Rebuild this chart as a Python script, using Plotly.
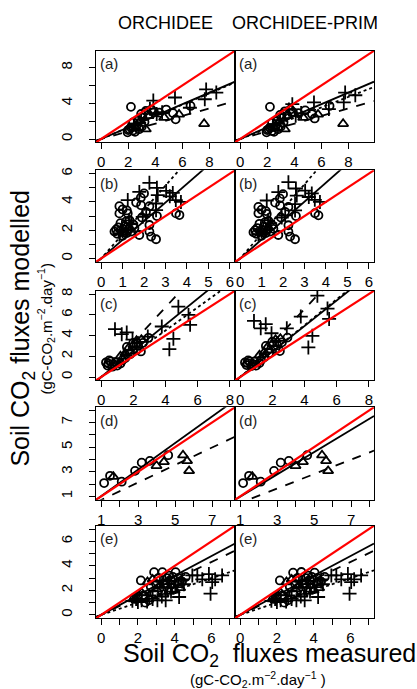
import plotly.graph_objects as go

W, H = 417, 689
FONT = "Liberation Sans, Arial, Helvetica, sans-serif"

PANEL_LABELS = ["(a)", "(b)", "(c)", "(d)", "(e)"]
MODELS = ["ORCHIDEE", "ORCHIDEE-PRIM"]

# data limits (R applies a 4% expansion)
LIMS = [(0, 9.5), (0, 6), (0, 8), (1, 7.95), (0, 7)]
TICKS = [[0, 2, 4, 6, 8], [0, 1, 2, 3, 4, 5, 6], [0, 2, 4, 6, 8],
         [1, 2, 3, 4, 5, 6, 7, 8], [0, 1, 2, 3, 4, 5, 6, 7]]
XLABELED = [[0, 2, 4, 6, 8], [0, 1, 2, 3, 4, 5, 6], [0, 2, 4, 6, 8], [1, 3, 5, 7], [0, 2, 4, 6]]
YLABELED = [[0, 4, 8], [0, 2, 4, 6], [0, 2, 4, 6, 8], [1, 3, 5, 7], [0, 2, 4, 6]]

# ---------------- panel (a)
A_CIRC_X = [2.2, 4.8, 6.6, 5.5, 5.3, 3.3, 3.7, 2.95, 2.7, 2.35, 2.1, 2.35, 2.8, 2.6, 1.95, 3.05, 4.3, 3.9,
            2.2, 3.0, 3.5, 2.5, 2.0, 3.2]
A_CIRC_ORC = [3.6, 3.3, 3.7, 2.2, 2.9, 3.15, 3.3, 2.8, 2.05, 1.85, 1.1, 0.95, 1.1, 1.5, 0.75, 2.4, 2.95, 3.0,
              1.3, 1.4, 2.7, 0.8, 1.0, 1.9]
A_CIRC_PRIM = [3.6, 3.2, 3.7, 2.3, 2.8, 3.1, 3.3, 2.7, 2.0, 1.8, 1.1, 0.9, 1.1, 1.45, 0.75, 2.35, 2.9, 3.0,
               1.25, 1.4, 2.65, 0.8, 1.0, 1.85]
A_PLUS_X = [3.85, 5.45, 7.75, 8.5, 7.65, 6.55, 4.1, 2.95, 2.45, 3.6, 4.5]
A_PLUS_ORC = [4.3, 4.65, 5.55, 5.2, 4.45, 3.5, 2.8, 2.2, 1.65, 3.4, 3.0]
A_PLUS_PRIM = [3.9, 4.1, 5.2, 4.9, 4.1, 3.35, 2.6, 2.1, 1.6, 3.3, 2.9]
A_TRI_X = [7.6, 4.65, 5.75, 3.3, 2.6, 2.9, 3.5]
A_TRI_ORC = [1.7, 2.4, 2.75, 1.1, 1.2, 2.0, 2.6]
A_TRI_PRIM = [1.7, 2.4, 2.75, 1.1, 1.2, 1.95, 2.6]

# ---------------- panel (b)
B_CIRC_X = [0.85, 1.0, 0.85, 1.24, 1.63, 1.86, 2.09, 2.25, 3.49, 3.65, 1.78, 2.25, 2.56, 2.33, 2.25,
            0.62, 0.93, 1.32, 1.55, 0.75, 1.0, 1.1, 0.9, 1.2, 1.4, 0.7, 1.05, 1.3, 1.5, 0.8, 1.15, 1.2,
            1.9, 2.0, 1.85, 2.6]
B_CIRC_ORC = [3.7, 3.47, 3.19, 3.19, 3.96, 3.77, 3.3, 3.7, 3.19, 3.07, 1.66, 1.9, 1.36, 1.55, 2.37,
              1.9, 2.0, 2.7, 2.15, 1.75, 1.6, 2.3, 2.5, 1.8, 1.9, 2.05, 1.85, 2.1, 2.4, 2.2, 2.6, 3.4,
              2.9, 4.6, 4.3, 3.0]
B_CIRC_PRIM = [3.65, 3.45, 3.2, 3.15, 3.95, 3.75, 3.3, 3.65, 3.2, 3.05, 1.66, 1.9, 1.36, 1.55, 2.35,
               1.85, 1.95, 2.65, 2.1, 1.75, 1.6, 2.25, 2.45, 1.8, 1.9, 2.0, 1.85, 2.1, 2.35, 2.15, 2.55, 3.35,
               2.9, 4.55, 4.25, 3.0]
B_PLUS_X = [2.25, 2.6, 3.03, 3.34, 3.48, 3.72, 2.64, 2.56, 1.24, 1.94, 2.56, 1.78, 1.4, 1.0, 1.2, 0.85, 2.1, 1.3, 3.2]
B_PLUS_ORC = [5.35, 5.0, 4.78, 4.64, 4.13, 4.0, 4.48, 3.89, 4.13, 2.95, 3.42, 4.71, 2.49, 1.9, 2.0, 1.7, 3.1, 2.7, 4.4]
B_PLUS_PRIM = [5.4, 4.95, 4.8, 4.6, 4.15, 4.0, 4.45, 3.85, 4.1, 2.9, 3.4, 4.7, 2.5, 1.9, 2.0, 1.7, 3.05, 2.7, 4.35]

# ---------------- panel (c)
C_CIRC_X = [0.3, 0.45, 0.6, 0.8, 1.0, 1.2, 0.5, 0.7, 1.5, 2.47, 2.94, 2.2, 1.8, 2.6, 1.3, 2.0, 1.6, 2.3,
            0.4, 0.9]
C_CIRC_ORC = [1.4, 1.3, 1.5, 1.2, 1.1, 1.3, 1.6, 1.0, 1.83, 2.47, 3.78, 2.6, 2.2, 3.3, 1.6, 3.3, 2.9, 3.0,
              1.1, 1.45]
C_CIRC_PRIM = [1.4, 1.35, 1.5, 1.25, 1.1, 1.35, 1.6, 1.05, 1.9, 2.5, 3.8, 2.7, 2.3, 3.35, 1.65, 3.4, 3.0, 3.05,
               1.15, 1.5]
C_TRI_X = [2.0, 1.8, 1.5, 1.7, 2.2, 1.2, 2.5]
C_TRI_ORC = [3.1, 2.47, 2.3, 2.8, 3.5, 2.0, 3.6]
C_TRI_PRIM = [3.2, 2.6, 2.4, 2.9, 3.6, 2.1, 3.7]
C_PLUS_X = [0.86, 1.28, 1.59, 3.77, 4.8, 5.43, 5.53, 4.49, 4.24, 2.9, 1.95]
C_PLUS_ORC = [4.61, 4.13, 4.3, 4.87, 6.78, 5.99, 5.03, 3.68, 2.69, 3.9, 3.6]
C_PLUS_PRIM = [5.41, 4.7, 5.1, 5.83, 7.84, 6.6, 5.6, 3.97, 2.85, 4.7, 4.22]

# ---------------- panel (d)
D_CIRC_X = [1.16, 1.48, 2.11, 2.83, 3.19, 3.63, 4.62]
D_CIRC_ORC = [2.08, 2.67, 2.19, 3.07, 3.74, 3.88, 4.34]
D_CIRC_PRIM = [2.08, 2.67, 2.19, 3.07, 3.74, 3.88, 4.34]
D_TRI_X = [1.66, 3.99, 4.39, 5.42, 5.64, 5.75]
D_TRI_ORC = [2.6, 3.48, 3.8, 4.34, 3.88, 3.07]
D_TRI_PRIM = [2.6, 3.48, 3.8, 4.34, 3.88, 3.07]

# ---------------- panel (e)
E_CIRC_X = [2.16, 2.88, 3.33, 4.05, 3.7, 3.1, 3.5, 2.7, 2.3, 1.8, 2.6, 3.9, 4.2, 3.3, 2.9, 4.6, 2.4,
            3.0, 3.6, 4.4, 2.0, 3.8]
E_CIRC_ORC = [2.81, 3.49, 3.49, 3.49, 3.2, 3.0, 2.6, 2.3, 1.6, 1.3, 1.2, 3.1, 3.0, 2.0, 1.7, 3.1, 1.0,
              2.5, 3.0, 2.7, 1.5, 2.8]
E_CIRC_PRIM = [2.81, 3.45, 3.5, 3.45, 3.2, 3.0, 2.6, 2.3, 1.6, 1.3, 1.2, 3.1, 3.0, 2.0, 1.7, 3.1, 1.0,
               2.5, 3.0, 2.7, 1.5, 2.8]
E_TRI_X = [2.52, 3.6, 3.9, 3.2, 4.2, 2.2, 3.0, 3.4, 4.0, 2.8, 3.7, 4.3]
E_TRI_ORC = [2.68, 2.7, 2.4, 2.4, 2.6, 1.8, 2.1, 1.7, 2.0, 2.9, 1.9, 2.2]
E_TRI_PRIM = [2.68, 2.7, 2.4, 2.4, 2.6, 1.8, 2.1, 1.7, 2.0, 2.9, 1.9, 2.2]
E_PLUS_X = [5.23, 5.86, 5.95, 6.04, 6.58, 4.96, 3.51, 3.06, 4.24, 4.05, 2.8, 2.5, 2.2, 1.9, 3.3,
            3.8, 4.5, 5.5, 4.4, 6.2, 3.6, 2.0, 1.7, 3.2, 2.6]
E_PLUS_ORC = [3.22, 3.33, 1.73, 2.68, 3.22, 3.22, 1.19, 1.19, 1.46, 2.27, 1.3, 1.1, 1.2, 1.3, 1.5,
              1.9, 2.5, 2.9, 2.9, 2.9, 2.2, 1.05, 1.15, 2.8, 1.6]
E_PLUS_PRIM = [3.22, 3.33, 1.73, 2.68, 3.22, 3.22, 1.19, 1.19, 1.46, 2.27, 1.3, 1.1, 1.2, 1.3, 1.5,
               1.9, 2.5, 2.9, 2.9, 2.9, 2.2, 1.05, 1.15, 2.8, 1.6]

# regression fits: slope / intercept per panel (None = not drawn)
SOLID_SLOPE_ORC = [0.65, 1.32, 1.26, 1.078, 0.80]
SOLID_INT_ORC = [0.0, 0.0, 0.0, -0.057, 0.0]
SOLID_SLOPE_PRIM = [0.65, 1.34, 1.23, 0.906, 0.80]
SOLID_INT_PRIM = [0.0, 0.0, 0.0, 0.07, 0.0]
DASH_SLOPE_ORC = [0.43, None, 1.68, 0.71, 0.72]
DASH_INT_ORC = [0.0, None, 0.0, 0.0, 0.0]
DASH_SLOPE_PRIM = [0.43, None, 1.64, 0.587, 0.72]
DASH_INT_PRIM = [0.0, None, 0.0, -0.12, 0.0]
DOT_SLOPE_ORC = [0.64, 1.72, 1.12, None, 0.50]
DOT_INT_ORC = [0.0, 0.0, 0.0, None, 0.0]
DOT_SLOPE_PRIM = [0.59, 1.75, 1.25, None, 0.50]
DOT_INT_PRIM = [0.0, 0.0, 0.0, None, 0.0]

PANEL_DATA = [
    {"circ": (A_CIRC_X, A_CIRC_ORC, A_CIRC_PRIM), "tri": (A_TRI_X, A_TRI_ORC, A_TRI_PRIM),
     "plus": (A_PLUS_X, A_PLUS_ORC, A_PLUS_PRIM)},
    {"circ": (B_CIRC_X, B_CIRC_ORC, B_CIRC_PRIM), "plus": (B_PLUS_X, B_PLUS_ORC, B_PLUS_PRIM)},
    {"circ": (C_CIRC_X, C_CIRC_ORC, C_CIRC_PRIM), "tri": (C_TRI_X, C_TRI_ORC, C_TRI_PRIM),
     "plus": (C_PLUS_X, C_PLUS_ORC, C_PLUS_PRIM)},
    {"circ": (D_CIRC_X, D_CIRC_ORC, D_CIRC_PRIM), "tri": (D_TRI_X, D_TRI_ORC, D_TRI_PRIM)},
    {"circ": (E_CIRC_X, E_CIRC_ORC, E_CIRC_PRIM), "tri": (E_TRI_X, E_TRI_ORC, E_TRI_PRIM),
     "plus": (E_PLUS_X, E_PLUS_ORC, E_PLUS_PRIM)},
]
FITS = {
    "solid": ((SOLID_SLOPE_ORC, SOLID_INT_ORC), (SOLID_SLOPE_PRIM, SOLID_INT_PRIM)),
    "dash": ((DASH_SLOPE_ORC, DASH_INT_ORC), (DASH_SLOPE_PRIM, DASH_INT_PRIM)),
    "dot": ((DOT_SLOPE_ORC, DOT_INT_ORC), (DOT_SLOPE_PRIM, DOT_INT_PRIM)),
}

# ---------------- layout geometry (pixels)
COL_PX = [(96, 235), (235, 374)]
ROW_PX = [(48, 140), (168, 260), (289, 379), (406, 499), (525, 618)]


def px_x(x):
    return x / W


def px_y(y):
    return 1 - y / H


SYMBOLS = {"circ": ("circle-open", 8), "tri": ("triangle-up-open", 9), "plus": ("cross-thin-open", 10)}
DASHES = {"solid": "solid", "dash": "dash", "dot": "dot"}

fig = go.Figure()
layout = {}
annotations = []

for p in range(5):
    lo, hi = LIMS[p]
    pad = 0.04 * (hi - lo)
    rng = [lo - pad, hi + pad]
    for m in range(2):
        idx = p * 2 + m + 1
        xa = "x" if idx == 1 else f"x{idx}"
        ya = "y" if idx == 1 else f"y{idx}"
        xkey = "xaxis" if idx == 1 else f"xaxis{idx}"
        ykey = "yaxis" if idx == 1 else f"yaxis{idx}"
        c0, c1 = COL_PX[m]
        r0, r1 = ROW_PX[p]
        layout[xkey] = dict(
            domain=[px_x(c0), px_x(c1)], range=rng, anchor=ya,
            showline=True, mirror=True, linecolor="black", linewidth=1,
            ticks="outside", ticklen=6, tickwidth=1, tickcolor="black",
            tickmode="array", tickvals=XLABELED[p], ticktext=[str(t) for t in XLABELED[p]],
            minor=dict(tickmode="array", tickvals=TICKS[p], ticks="outside", ticklen=6,
                       tickwidth=1, tickcolor="black", showgrid=False),
            tickfont=dict(size=15, color="black", family=FONT),
            showgrid=False, zeroline=False, fixedrange=True,
        )
        ydict = dict(
            domain=[px_y(r1), px_y(r0)], range=rng, anchor=xa,
            showline=True, mirror=True, linecolor="black", linewidth=1,
            showgrid=False, zeroline=False, fixedrange=True,
        )
        if m == 0:
            ydict.update(
                ticks="outside", ticklen=6, tickwidth=1, tickcolor="black",
                tickmode="array", tickvals=YLABELED[p], ticktext=[str(t) for t in YLABELED[p]],
                minor=dict(tickmode="array", tickvals=TICKS[p], ticks="outside", ticklen=6,
                           tickwidth=1, tickcolor="black", showgrid=False),
                tickangle=-90, ticklabelstandoff=11,
                tickfont=dict(size=15, color="black", family=FONT),
            )
        else:
            ydict.update(ticks="", showticklabels=False)
        layout[ykey] = ydict

        # points
        for key in ["circ", "tri", "plus"]:
            if key not in PANEL_DATA[p]:
                continue
            xs, y_orc, y_prim = PANEL_DATA[p][key]
            ys = y_orc if m == 0 else y_prim
            sym, size = SYMBOLS[key]
            fig.add_trace(go.Scatter(
                x=xs, y=ys, mode="markers", xaxis=xa, yaxis=ya, showlegend=False,
                marker=dict(symbol=sym, size=size, color="black",
                            line=dict(color="black", width=1.8)),
                cliponaxis=True, hoverinfo="skip",
            ))
        # fits
        for style, pair in FITS.items():
            slopes, ints = pair[m]
            b, a = slopes[p], ints[p]
            if b is None:
                continue
            xs = [rng[0], rng[1]]
            fig.add_trace(go.Scatter(
                x=xs, y=[a + b * v for v in xs], mode="lines", xaxis=xa, yaxis=ya,
                showlegend=False, line=dict(color="black", width=1.8, dash=DASHES[style]),
                hoverinfo="skip",
            ))
        # 1:1 line
        fig.add_trace(go.Scatter(
            x=rng, y=rng, mode="lines", xaxis=xa, yaxis=ya, showlegend=False,
            line=dict(color="#ff0000", width=2.2), hoverinfo="skip",
        ))
        annotations.append(dict(
            text=PANEL_LABELS[p], xref="paper", yref="paper",
            x=px_x(c0 + 2), y=px_y(r0 + 13), xanchor="left", yanchor="middle",
            showarrow=False, font=dict(size=15, color="#222222", family=FONT),
        ))

for m, name in enumerate(MODELS):
    c0, c1 = COL_PX[m]
    annotations.append(dict(
        text=name, xref="paper", yref="paper", x=px_x((c0 + c1) / 2), y=px_y(20),
        xanchor="center", yanchor="middle", showarrow=False,
        font=dict(size=18, color="black", family=FONT),
    ))

annotations.append(dict(
    text="Soil CO<sub>2</sub>  fluxes measured", xref="paper", yref="paper",
    x=px_x(121), y=px_y(655), xanchor="left", yanchor="middle", showarrow=False,
    font=dict(size=25, color="black", family=FONT),
))
annotations.append(dict(
    text="(gC-CO<sub>2</sub>.m<sup>\u22122</sup>.day<sup>\u22121</sup> )", xref="paper", yref="paper",
    x=px_x(258), y=px_y(679), xanchor="center", yanchor="middle", showarrow=False,
    font=dict(size=15, color="black", family=FONT),
))
annotations.append(dict(
    text="Soil CO<sub>2</sub> fluxes modelled", xref="paper", yref="paper",
    x=px_x(22), y=px_y(327), xanchor="center", yanchor="middle", textangle=-90, showarrow=False,
    font=dict(size=25, color="black", family=FONT),
))
annotations.append(dict(
    text="(gC-CO<sub>2</sub>.m<sup>\u22122</sup>.day<sup>\u22121</sup>)", xref="paper", yref="paper",
    x=px_x(46), y=px_y(327), xanchor="center", yanchor="middle", textangle=-90, showarrow=False,
    font=dict(size=15, color="black", family=FONT),
))

fig.update_layout(
    width=W, height=H, margin=dict(l=0, r=0, t=0, b=0),
    paper_bgcolor="white", plot_bgcolor="white",
    annotations=annotations, showlegend=False,
    **layout,
)

fig.write_html("out.html", config={"displayModeBar": False},
               post_script="document.body.style.margin='0';document.body.style.overflow='hidden';")
